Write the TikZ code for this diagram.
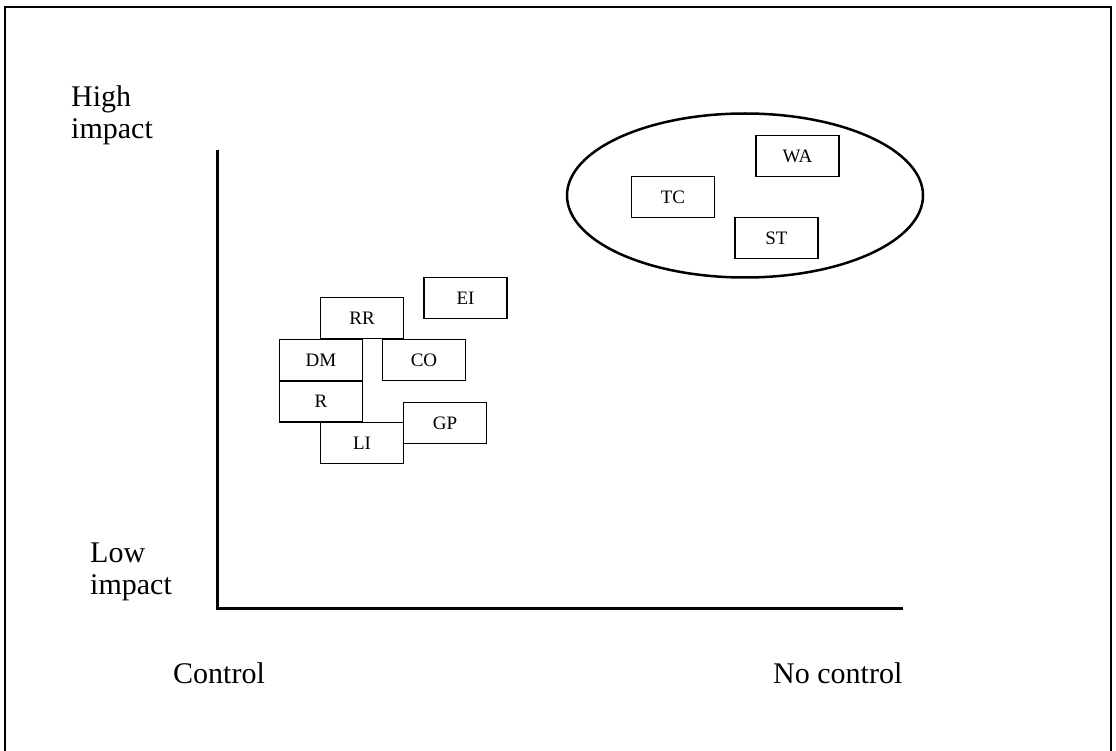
\documentclass[tikz,border=0pt]{standalone}
\usepackage{fontspec}
\setmainfont{Liberation Serif}
\begin{document}
\begin{tikzpicture}[x=1pt,y=-1pt,
  axislabel/.style={inner sep=0pt, font=\fontsize{30}{32}\selectfont},
  factorbox/.style={draw, line width=1.4pt, rectangle, inner sep=0pt,
    minimum width=83pt, minimum height=41pt, font=\fontsize{19}{21}\selectfont},
  axisline/.style={line width=3pt}]
  \useasboundingbox (0,0) rectangle (1116,751);
  \clip (0,0) rectangle (1116,751);

  % outer frame (its lower edge lies below the visible area)
  \draw[line width=2pt] (5,770) -- (5,7) -- (1111,7) -- (1111,770);

  % axes
  \coordinate (ytop) at (217,150);
  \coordinate (xend) at (903,608);
  \draw[axisline] (ytop) |- (xend);

  % axis labels
  \node[axislabel, anchor=north west, align=left] (high) at (71,85.5) {High\\impact};
  \node[axislabel, anchor=north west, align=left] (low) at (90,542.5) {Low\\impact};
  \node[axislabel, anchor=base west] (ctrl) at (173,683) {Control};
  \node[axislabel, anchor=base west] (noctrl) at (773,683) {No control};

  % factors that can be controlled
  \node[factorbox] (EI) at (465.5,298) {EI};
  \node[factorbox] (RR) at (362,318) {RR};
  \node[factorbox] (DM) at (321,360) {DM};
  \node[factorbox] (CO) at (424,360) {CO};
  \node[factorbox] (R)  at (321,401.5) {R};
  \node[factorbox] (GP) at (445,423) {GP};
  \node[factorbox] (LI) at (362,443) {LI};

  % high impact, no control group
  \draw[line width=2.5pt] (745,195.5) ellipse [x radius=178, y radius=82];
  \node[factorbox] (TC) at (673,197) {TC};
  \node[factorbox] (WA) at (797.5,156) {WA};
  \node[factorbox] (ST) at (776.5,238) {ST};
\end{tikzpicture}
\end{document}
